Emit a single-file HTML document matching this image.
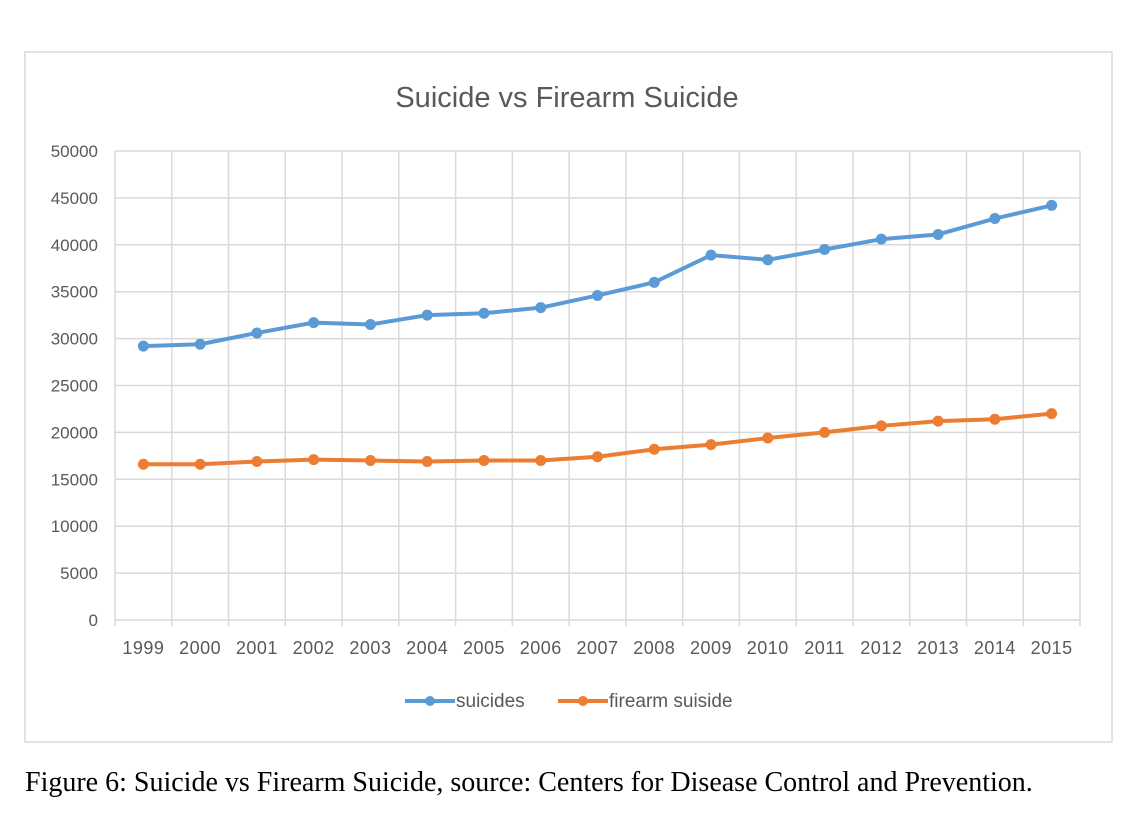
<!DOCTYPE html>
<html><head><meta charset="utf-8"><style>
body{margin:0;background:#fff;width:1140px;height:820px;overflow:hidden;font-family:"Liberation Sans",sans-serif}
</style></head><body>
<svg width="1140" height="820">
<rect x="25" y="52" width="1087" height="690" fill="#fff" stroke="#d9d9d9" stroke-width="1.5"/>
<text x="567" y="107" text-anchor="middle" font-size="29" fill="#595959">Suicide vs Firearm Suicide</text>
<g id="grid"></g><g id="series"></g>
<g>
<line x1="405" y1="701" x2="455" y2="701" stroke="#5b9bd5" stroke-width="4"/><circle cx="430" cy="701" r="5" fill="#5b9bd5"/>
<text x="456" y="707" font-size="19" fill="#595959">suicides</text>
<line x1="558" y1="701" x2="608" y2="701" stroke="#ed7d31" stroke-width="4"/><circle cx="583" cy="701" r="5" fill="#ed7d31"/>
<text x="609" y="707" font-size="19" fill="#595959">firearm suiside</text>
</g>
<text x="25" y="791" font-family="Liberation Serif,serif" font-size="28" fill="#000">Figure 6: Suicide vs Firearm Suicide, source: Centers for Disease Control and Prevention.</text>
</svg>
<script>
const years=['1999','2000','2001','2002','2003','2004','2005','2006','2007','2008','2009','2010','2011','2012','2013','2014','2015'];
const suicides=[29200,29400,30600,31700,31500,32500,32700,33300,34600,36000,38900,38400,39500,40600,41100,42800,44200];
const firearm=[16600,16600,16900,17100,17000,16900,17000,17000,17400,18200,18700,19400,20000,20700,21200,21400,22000];
const yTicks=[0,5000,10000,15000,20000,25000,30000,35000,40000,45000,50000];
const NS='http://www.w3.org/2000/svg';
const x0=115,x1=1080,yb=620,yt=151;
const cw=(x1-x0)/years.length;
const X=i=>x0+cw*(i+0.5);
const Y=v=>yb-(v/50000)*(yb-yt);
function mk(t,a,p){const e=document.createElementNS(NS,t);for(const k in a)e.setAttribute(k,a[k]);p.appendChild(e);return e;}
const g=document.getElementById('grid'),s=document.getElementById('series');
yTicks.forEach(v=>{
 const l=mk('line',{x1:x0,x2:x1,y1:Y(v),y2:Y(v),stroke:'#d9d9d9','stroke-width':1.5},g);
 
 
 const t=mk('text',{x:x0-17,y:Y(v)+6,'text-anchor':'end','font-size':17,fill:'#595959'},g);
 t.textContent=v;
 
 
});
for(let i=0;i<=years.length;i++){
 const l=mk('line',{x1:x0+cw*i,x2:x0+cw*i,y1:yt,y2:yb+6,stroke:'#d9d9d9','stroke-width':1.5},g);
 
 
}
years.forEach((y,i)=>{
 const t=mk('text',{x:X(i),y:654,'text-anchor':'middle','font-size':18,'letter-spacing':0.5,fill:'#595959'},g);
 t.textContent=y;
 
 
});
function draw(data,col,name){
 const p=mk('polyline',{points:data.map((v,i)=>X(i)+','+Y(v)).join(' '),fill:'none',stroke:col,'stroke-width':4,'stroke-linejoin':'round'},s);
 
 
 data.forEach((v,i)=>{
  const c=mk('circle',{cx:X(i),cy:Y(v),r:5.5,fill:col},s);
  
  
 });
}
draw(suicides,'#5b9bd5','suicides');
draw(firearm,'#ed7d31','firearm');
</script>
</body></html>
